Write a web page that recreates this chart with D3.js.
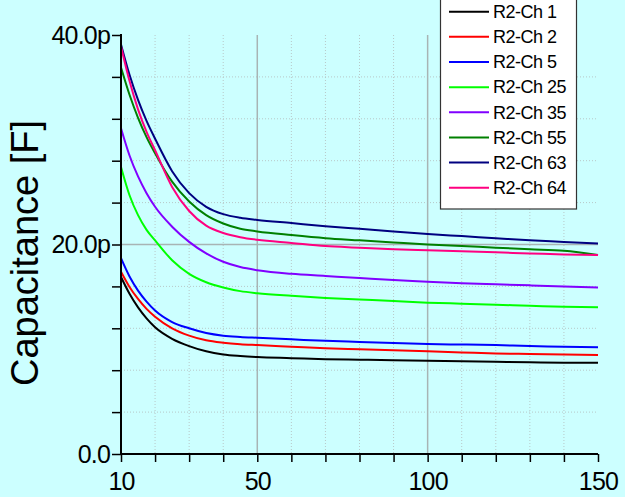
<!DOCTYPE html>
<html>
<head>
<meta charset="utf-8">
<script src="https://cdn.jsdelivr.net/npm/d3@7"></script>
<style>
  html, body { margin: 0; padding: 0; background: #ccffff; }
  svg { display: block; font-family: Arial, "Liberation Sans", sans-serif; }
</style>
</head>
<body>
<div id="chart"></div>
<script>
// x points shared by all channels
const xValues = [10, 12.5, 15, 17.5, 20, 25, 30, 35, 40, 45, 50, 60, 70, 80, 90, 100, 110, 120, 130, 140, 150];

// capacitance in pF
const ch1  = [16.9, 15.3, 14.0, 12.95, 12.1, 11.0, 10.3, 9.8, 9.5, 9.35, 9.25, 9.15, 9.05, 9.0, 8.95, 8.9, 8.85, 8.8, 8.75, 8.72, 8.7];
const ch2  = [17.4, 15.95, 14.8, 13.85, 13.1, 12.0, 11.3, 10.85, 10.62, 10.48, 10.4, 10.25, 10.1, 10.0, 9.9, 9.8, 9.7, 9.6, 9.55, 9.5, 9.45];
const ch5  = [18.7, 16.95, 15.6, 14.55, 13.7, 12.6, 12.0, 11.55, 11.3, 11.18, 11.1, 10.95, 10.8, 10.7, 10.6, 10.5, 10.45, 10.4, 10.3, 10.25, 10.2];
const ch25 = [27.4, 24.7, 22.8, 21.4, 20.4, 18.5, 17.2, 16.4, 15.9, 15.55, 15.35, 15.1, 14.9, 14.75, 14.6, 14.45, 14.35, 14.25, 14.15, 14.05, 14.0];
const ch35 = [31.1, 28.5, 26.5, 24.9, 23.6, 21.7, 20.25, 19.15, 18.35, 17.85, 17.55, 17.2, 17.0, 16.8, 16.6, 16.45, 16.3, 16.2, 16.1, 16.0, 15.9];
const ch55 = [36.9, 34.3, 32.1, 30.25, 28.7, 26.0, 24.1, 22.8, 22.0, 21.5, 21.25, 20.9, 20.6, 20.4, 20.2, 20.0, 19.85, 19.7, 19.55, 19.4, 19.0];
const ch63 = [39.1, 36.2, 33.8, 31.8, 30.1, 27.0, 24.9, 23.6, 22.9, 22.55, 22.35, 22.05, 21.75, 21.5, 21.25, 21.0, 20.8, 20.6, 20.4, 20.25, 20.1];
const ch64 = [38.9, 35.6, 32.9, 30.75, 29.0, 25.5, 23.2, 21.8, 21.1, 20.7, 20.45, 20.15, 19.85, 19.7, 19.55, 19.45, 19.35, 19.25, 19.15, 19.05, 19.0];

const seriesNames = ['R2-Ch 1', 'R2-Ch 2', 'R2-Ch 5', 'R2-Ch 25', 'R2-Ch 35', 'R2-Ch 55', 'R2-Ch 63', 'R2-Ch 64'];
const seriesValues = [ch1, ch2, ch5, ch25, ch35, ch55, ch63, ch64];
const seriesColors = ['#000000', '#ff0000', '#0000ff', '#00ff00', '#8000ff', '#008000', '#000080', '#ff0080'];

// axis ticks
const xMajorTicks = [10, 50, 100, 150];
const xMinorTicks = [20, 30, 40, 60, 70, 80, 90, 110, 120, 130, 140];
const yMajorTicks = [0, 20, 40];
const yMinorTicks = [4, 8, 12, 16, 24, 28, 32, 36];

class CapacitanceChart {
  constructor() {
    this.width = 625;
    this.height = 497;
    this.plot = { left: 121, right: 598, top: 35, bottom: 454 };
  }

  draw() {
    const svg = d3.select('#chart')
      .append('svg')
      .attr('width', this.width)
      .attr('height', this.height);

    svg.append('rect')
      .attr('width', this.width)
      .attr('height', this.height)
      .attr('fill', '#ccffff');

    this.x = d3.scaleLinear().domain([10, 150]).range([this.plot.left, this.plot.right]);
    this.y = d3.scaleLinear().domain([0, 40]).range([this.plot.bottom, this.plot.top]);

    this.drawGrid(svg);
    this.drawLines(svg);
    this.drawAxes(svg);
    this.drawLegend(svg);
  }

  drawGrid(svg) {
    const g = svg.append('g');
    // dotted minor grid
    g.selectAll('.vminor')
      .data(xMinorTicks)
      .enter()
      .append('line')
      .attr('x1', d => this.x(d)).attr('x2', d => this.x(d))
      .attr('y1', this.plot.top).attr('y2', this.plot.bottom)
      .attr('stroke', '#b8c8c8')
      .attr('stroke-dasharray', '1,2');

    g.selectAll('.hminor')
      .data(yMinorTicks)
      .enter()
      .append('line')
      .attr('x1', this.plot.left).attr('x2', this.plot.right)
      .attr('y1', d => this.y(d)).attr('y2', d => this.y(d))
      .attr('stroke', '#b8c8c8')
      .attr('stroke-dasharray', '1,2');

    // solid major grid
    g.selectAll('.vmajor')
      .data([50, 100])
      .enter()
      .append('line')
      .attr('x1', d => this.x(d)).attr('x2', d => this.x(d))
      .attr('y1', this.plot.top).attr('y2', this.plot.bottom)
      .attr('stroke', '#a8b4b4')
      .attr('stroke-width', 1.5);

    g.selectAll('.hmajor')
      .data([20])
      .enter()
      .append('line')
      .attr('x1', this.plot.left).attr('x2', this.plot.right)
      .attr('y1', d => this.y(d)).attr('y2', d => this.y(d))
      .attr('stroke', '#a8b4b4')
      .attr('stroke-width', 1.5);
  }

  drawLines(svg) {
    const line = d3.line()
      .x((d, i) => this.x(xValues[i]))
      .y(d => this.y(d))
      .curve(d3.curveMonotoneX);

    svg.append('g')
      .selectAll('path')
      .data(seriesValues)
      .enter()
      .append('path')
      .attr('fill', 'none')
      .attr('stroke', (d, i) => seriesColors[i])
      .attr('stroke-width', 2)
      .attr('d', line);
  }

  drawAxes(svg) {
    const fmt = v => v === 0 ? '0.0' : v.toFixed(1) + 'p';

    const yAxis = svg.append('g')
      .attr('transform', `translate(${this.plot.left},0)`)
      .call(d3.axisLeft(this.y).tickValues(yMajorTicks.concat(yMinorTicks)).tickSize(9).tickFormat(d => yMajorTicks.includes(d) ? fmt(d) : ''));
    yAxis.select('.domain').attr('d', `M-1,${this.plot.top}H0V${this.plot.bottom}`).attr('stroke', '#000').attr('stroke-width', 2);
    yAxis.selectAll('.tick line').attr('stroke', '#000').attr('stroke-width', 1.5);
    yAxis.selectAll('.tick text')
      .attr('x', -11)
      .style('font-size', '25px')
      .style('letter-spacing', '-0.8px')
      .style('font-family', 'Arial, "Liberation Sans", sans-serif')
      .attr('fill', '#000');

    const xAxis = svg.append('g')
      .attr('transform', `translate(0,${this.plot.bottom})`)
      .call(d3.axisBottom(this.x).tickValues(xMajorTicks.concat(xMinorTicks)).tickSize(8).tickFormat(d => xMajorTicks.includes(d) ? d : ''));
    xAxis.select('.domain').attr('d', `M${this.plot.left},0H${this.plot.right}`).attr('stroke', '#000').attr('stroke-width', 2);
    xAxis.selectAll('.tick line').attr('stroke', '#000').attr('stroke-width', 1.5);
    xAxis.selectAll('.tick text')
      .attr('y', 36)
      .attr('dy', 0)
      .style('font-size', '25px')
      .style('letter-spacing', '-0.8px')
      .style('font-family', 'Arial, "Liberation Sans", sans-serif')
      .attr('fill', '#000');

    svg.append('text')
      .attr('transform', 'translate(38,253) rotate(-90)')
      .attr('text-anchor', 'middle')
      .style('font-size', '38px')
      .attr('fill', '#000')
      .text('Capacitance [F]');
  }

  drawLegend(svg) {
    const legend = svg.append('g');
    legend.append('rect')
      .attr('x', 440.5).attr('y', -5)
      .attr('width', 136).attr('height', 214)
      .attr('fill', '#ffffff')
      .attr('stroke', '#333')
      .attr('stroke-width', 1.2);

    const rowY = i => 11.7 + i * 25.15;
    const rows = legend.selectAll('.row')
      .data(seriesNames)
      .enter()
      .append('g')
      .attr('transform', (d, i) => `translate(0,${rowY(i)})`);

    rows.append('line')
      .attr('x1', 449).attr('x2', 489)
      .attr('stroke', (d, i) => seriesColors[i])
      .attr('stroke-width', 2);

    rows.append('text')
      .attr('x', 493)
      .attr('dy', '0.35em')
      .style('font-size', '18px')
      .style('letter-spacing', '-0.5px')
      .attr('fill', '#000')
      .text(d => d);
  }
}

document.addEventListener('DOMContentLoaded', () => {
  const chart = new CapacitanceChart();
  chart.draw();
});
</script>
</body>
</html>
